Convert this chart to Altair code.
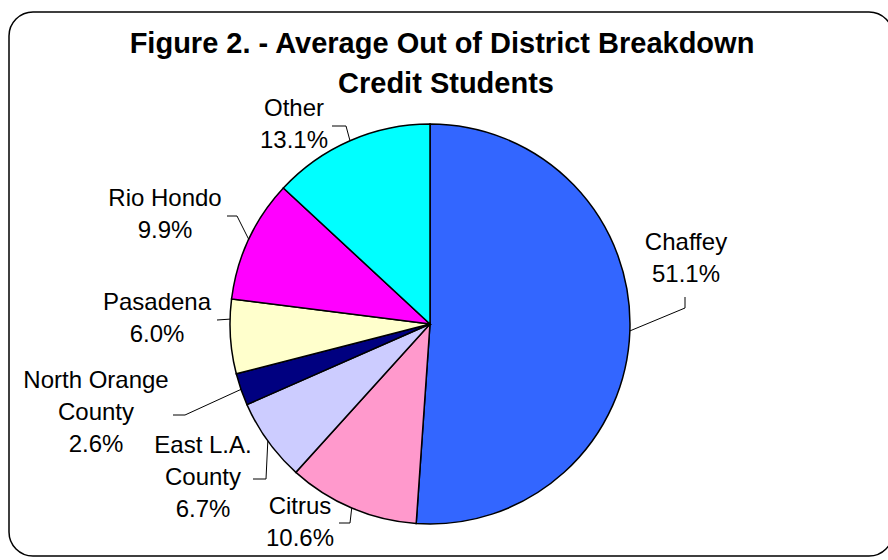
import math
import altair as alt
import pandas as pd

# ---- data ----
categories = ["Chaffey", "Citrus", "East L.A. County", "North Orange County",
              "Pasadena", "Rio Hondo", "Other"]
label_names = [["Chaffey"], ["Citrus"], ["East L.A.", "County"],
               ["North Orange", "County"], ["Pasadena"], ["Rio Hondo"], ["Other"]]
shares = [51.1, 10.6, 6.7, 2.6, 6.0, 9.9, 13.1]
colors = ["#3366FF", "#FF99CC", "#CCCCFF", "#000080", "#FFFFCC", "#FF00FF", "#00FFFF"]
title_lines = ["Figure 2. - Average Out of District Breakdown", "Credit Students"]

# ---- layout (pixels) ----
W, H = 888, 560
CX, CY, R = 430, 324, 200
FONT = "Liberation Sans"
LFS = 24          # label font size
LH = 32           # label line height
label_centers = [(686, 257), (300, 521), (203, 476), (96, 411),
                 (157, 317), (165, 213), (294, 123)]
leader_pts = [[(685, 297), (685, 308)],
              [(339, 523), (350, 523)],
              [(253, 479), (266, 479)],
              [(173, 415), (185, 415)],
              [(217, 320)],
              [(227, 216), (237, 216)],
              [(332, 126), (346, 126)]]
anchor_nudge = [0, 0, 0, 0, 5, 0, 0]  # degrees

# ---- pie ----
pie_df = pd.DataFrame({"cat": categories, "value": shares, "color": colors,
                       "idx": list(range(len(categories)))})
pie = alt.Chart(pie_df).mark_arc(outerRadius=R, stroke="black", strokeWidth=1.5).encode(
    theta=alt.Theta("value:Q", stack=True),
    color=alt.Color("color:N", scale=None),
    order=alt.Order("idx:Q"),
    x=alt.value(CX), y=alt.value(CY),
)

# ---- labels ----
total = sum(shares)
rows, lrows = [], []
cum = 0.0
for i, (names, v) in enumerate(zip(label_names, shares)):
    mid = (cum + v / 2) / total * 360 + anchor_nudge[i]
    cum += v
    lines = names + [f"{v:.1f}%"]
    cx, cy = label_centers[i]
    n = len(lines)
    for j, t in enumerate(lines):
        yc = cy + (j - (n - 1) / 2) * LH
        rows.append({"x": cx, "y": yc + 0.358 * LFS, "t": t})
    a = math.radians(mid)
    ex, ey = CX + R * math.sin(a), CY - R * math.cos(a)
    pts = leader_pts[i] + [(ex, ey)]
    for k, (px, py) in enumerate(pts):
        lrows.append({"x": px, "y": py, "g": categories[i], "k": k})

lab_df = pd.DataFrame(rows)
labels = alt.Chart(lab_df).mark_text(font=FONT, fontSize=LFS, align="center",
                                     baseline="alphabetic", color="black").encode(
    x=alt.X("x:Q", scale=None, axis=None),
    y=alt.Y("y:Q", scale=None, axis=None),
    text="t:N",
)

lead_df = pd.DataFrame(lrows)
leaders = alt.Chart(lead_df).mark_line(color="black", strokeWidth=1).encode(
    x=alt.X("x:Q", scale=None, axis=None),
    y=alt.Y("y:Q", scale=None, axis=None),
    detail="g:N",
    order="k:Q",
)

# ---- title ----
tdf = pd.DataFrame({"t": title_lines, "x": [442, 446], "y": [53, 93]})
title = alt.Chart(tdf).mark_text(font=FONT, fontSize=29, fontWeight="bold",
                                 align="center", baseline="alphabetic", color="black").encode(
    x=alt.X("x:Q", scale=None, axis=None),
    y=alt.Y("y:Q", scale=None, axis=None),
    text="t:N",
)

# ---- border ----
border = alt.Chart(pd.DataFrame({"a": [0]})).mark_rect(
    fill=None, stroke="black", strokeWidth=1.5, cornerRadius=24).encode(
    x=alt.value(9), x2=alt.value(893), y=alt.value(12), y2=alt.value(556))

chart = alt.layer(border, pie, leaders, labels, title).properties(
    width=W, height=H, autosize="none", padding=0, background="white"
).configure_view(stroke=None)

chart.save("out.html", embed_options={"renderer": "svg", "actions": False})
